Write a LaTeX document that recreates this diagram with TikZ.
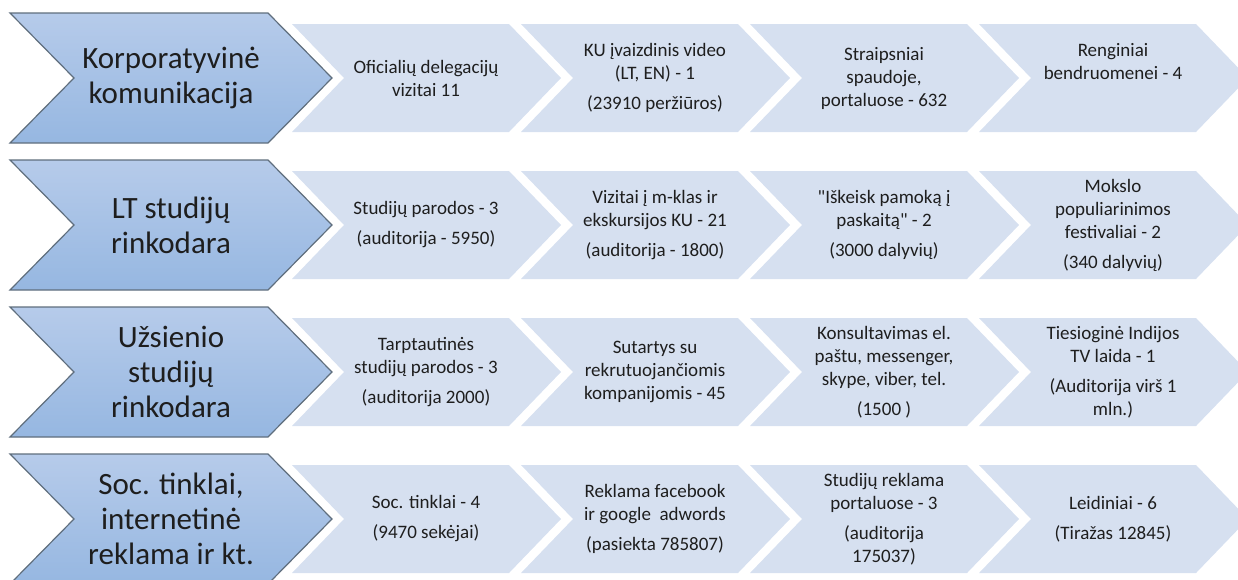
\documentclass[tikz,border=0pt]{standalone}
\usepackage{fontspec}
\setmainfont{Carlito}[Ligatures=TeXOff]
\usepackage{tikz}
\usetikzlibrary{positioning}
\usepackage{xcolor}
\definecolor{chevlight}{RGB}{214,224,240}
\definecolor{chevtop}{RGB}{182,203,234}
\definecolor{chevbot}{RGB}{150,183,225}
\definecolor{chevline}{RGB}{95,110,125}
\definecolor{txtgray}{RGB}{30,30,30}

\begin{document}
\begin{tikzpicture}[x=1pt,y=-1pt,
  bigchev/.style={draw=chevline,line width=1.2pt,top color=chevtop,bottom color=chevbot},
  smallchev/.style={fill=chevlight},
  bigtxt/.style={font=\fontsize{31}{35}\selectfont,align=center,text=txtgray},
  smalltxt/.style={font=\fontsize{19}{23}\selectfont,align=center,text=txtgray}]
\useasboundingbox (0,0) rectangle (1238,579);
\clip (0,0) rectangle (1238,579);
% rows of chevrons
\foreach \c in {78,225,372,519}{
  \foreach \L in {292,521,750,979}
    \fill[smallchev] (\L,\c-54) -- (\L+217,\c-54) -- (\L+269,\c) -- (\L+217,\c+54) -- (\L,\c+54) -- (\L+52,\c) -- cycle;
  \draw[bigchev] (10,\c-65) -- (268,\c-65) -- (332,\c) -- (268,\c+65) -- (10,\c+65) -- (74,\c) -- cycle;
}
% row 1
\node[bigtxt] (kor) at (171,78) {Korporatyvinė\\komunikacija};
\node[smalltxt] (kor1) at (426,78) {Oficialių delegacijų\\vizitai 11};
\node[smalltxt] (kor2) at (655,78) {KU įvaizdinis video\\(LT, EN) - 1\\[7pt](23910 peržiūros)};
\node[smalltxt] (kor3) at (884,78) {Straipsniai\\spaudoje,\\portaluose - 632};
\node[smalltxt] (kor4) at (1113,62) {Renginiai\\bendruomenei - 4};
% row 2
\node[bigtxt] (lt) at (171,225) {LT studijų\\rinkodara};
\node[smalltxt] (lt1) at (426,225) {Studijų parodos - 3\\[7pt](auditorija - 5950)};
\node[smalltxt] (lt2) at (655,225) {Vizitai į m-klas ir\\ekskursijos KU - 21\\[7pt](auditorija - 1800)};
\node[smalltxt] (lt3) at (884,225) {"Iškeisk pamoką į\\paskaitą" - 2\\[7pt](3000 dalyvių)};
\node[smalltxt] (lt4) at (1113,225) {Mokslo\\populiarinimos\\festivaliai - 2\\[7pt](340 dalyvių)};
% row 3
\node[bigtxt] (uzs) at (171,372) {Užsienio\\studijų\\rinkodara};
\node[smalltxt] (uzs1) at (426,372) {Tarptautinės\\studijų parodos - 3\\[7pt](auditorija 2000)};
\node[smalltxt] (uzs2) at (655,372) {Sutartys su\\rekrutuojančiomis\\kompanijomis - 45};
\node[smalltxt] (uzs3) at (884,372) {Konsultavimas el.\\paštu, messenger,\\skype, viber, tel.\\[7pt](1500 )};
\node[smalltxt] (uzs4) at (1113,372) {Tiesioginė Indijos\\TV laida - 1\\[7pt](Auditorija virš 1\\mln.)};
% row 4
\node[bigtxt] (soc) at (171,519) {Soc. tinklai,\\internetinė\\reklama ir kt.};
\node[smalltxt] (soc1) at (426,519) {Soc. tinklai - 4\\[7pt](9470 sekėjai)};
\node[smalltxt] (soc2) at (655,519) {Reklama facebook\\ir google\ \ adwords\\[7pt](pasiekta 785807)};
\node[smalltxt] (soc3) at (884,519) {Studijų reklama\\portaluose - 3\\[7pt](auditorija\\175037)};
\node[smalltxt] (soc4) at (1113,519) {Leidiniai - 6\\[7pt](Tiražas 12845)};
\end{tikzpicture}
\end{document}
